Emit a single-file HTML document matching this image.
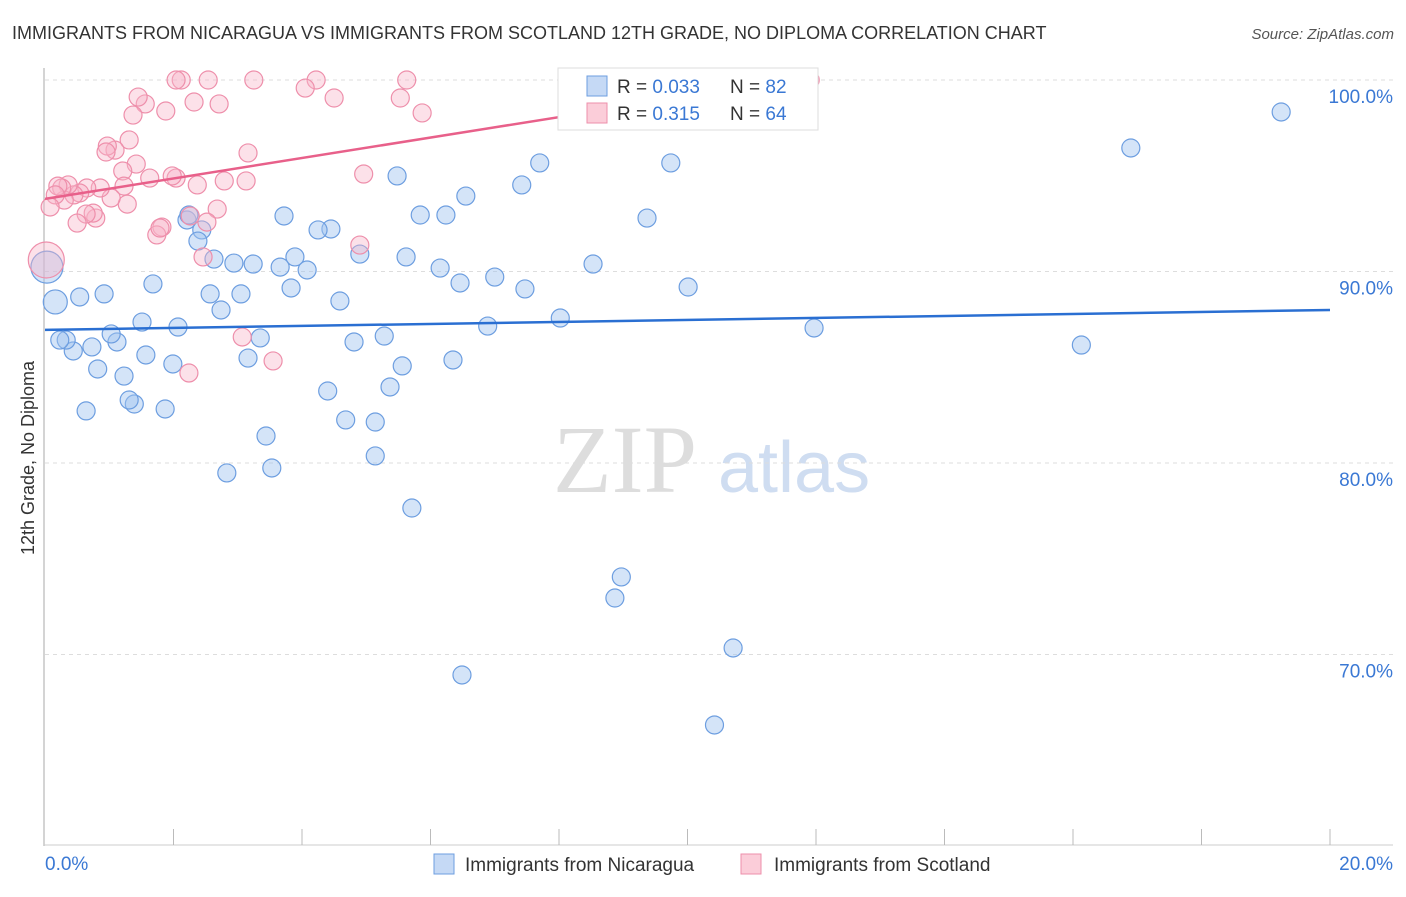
<!DOCTYPE html>
<html><head><meta charset="utf-8"><style>
body{margin:0;background:#fff;font-family:"Liberation Sans",sans-serif}
</style></head><body>
<svg id="chart" width="1406" height="892" xmlns="http://www.w3.org/2000/svg" font-family="Liberation Sans, sans-serif">
<text x="12" y="39" font-size="18" fill="#333">IMMIGRANTS FROM NICARAGUA VS IMMIGRANTS FROM SCOTLAND 12TH GRADE, NO DIPLOMA CORRELATION CHART</text>
<text x="1394" y="39" font-size="15" fill="#555" text-anchor="end" font-style="italic">Source: ZipAtlas.com</text>
<g>
<text x="553" y="492" font-size="96" font-family="Liberation Serif, serif" fill="#ddd">ZIP</text>
<text x="718" y="492" font-size="72" fill="#cfddf1">atlas</text>
</g>
<g id="grid"></g><g id="axes"></g><g id="pts"></g><g id="trend"></g>
<text transform="translate(34,458) rotate(-90)" font-size="18" fill="#333" text-anchor="middle">12th Grade, No Diploma</text>
<g>
<rect x="558" y="68" width="260" height="62" fill="#fff" stroke="#ddd"/>
<rect x="587" y="76" width="20" height="20" fill="#c5d9f5" stroke="#6d9ee0"/>
<rect x="587" y="103" width="20" height="20" fill="#fbcdd9" stroke="#ee8fab"/>
<text x="617" y="93" font-size="19" fill="#333">R = <tspan fill="#3a78d4">0.033</tspan></text>
<text x="730" y="93" font-size="19" fill="#333">N = <tspan fill="#3a78d4">82</tspan></text>
<text x="617" y="120" font-size="19" fill="#333">R = <tspan fill="#3a78d4"> 0.315</tspan></text>
<text x="730" y="120" font-size="19" fill="#333">N = <tspan fill="#3a78d4">64</tspan></text>
</g>
<g>
<rect x="434" y="854" width="20" height="20" fill="#c5d9f5" stroke="#6d9ee0"/>
<text x="465" y="871" font-size="19" fill="#333">Immigrants from Nicaragua</text>
<rect x="741" y="854" width="20" height="20" fill="#fbcdd9" stroke="#ee8fab"/>
<text x="774" y="871" font-size="19" fill="#333">Immigrants from Scotland</text>
</g>
</svg>
<script>
const yTicks=[100,90,80,70];
const yTickLabels=["100.0%","90.0%","80.0%","70.0%"];
const xTicks=[0,2,4,6,8,10,12,14,16,18,20];
const nicX=[19.24,16.90,16.13,11.97,10.71,10.42,10.01,9.74,9.37,8.97,8.87,8.53,8.02,7.70,7.42,7.47,7.00,6.89,6.55,6.46,6.49,6.24,6.15,6.35,5.84,5.62,5.48,5.56,5.37,5.71,5.28,5.14,5.14,4.90,4.81,4.68,4.59,4.40,4.45,4.25,4.08,3.89,3.83,3.72,3.66,3.53,3.44,3.35,3.24,3.16,3.05,2.94,2.83,2.74,2.63,2.57,2.44,2.38,2.21,2.24,2.07,1.99,1.87,1.68,1.57,1.51,1.39,1.31,1.23,1.12,1.03,0.92,0.82,0.73,0.64,0.54,0.44,0.33,0.23,0.16,0.03];
const nicY=[98.33,96.45,86.16,87.05,70.34,66.32,89.19,95.67,92.79,74.05,72.95,90.39,87.57,95.67,94.52,89.09,89.71,87.15,93.94,89.40,68.93,92.95,90.18,85.38,92.95,90.76,94.99,85.07,83.97,77.65,86.63,82.14,80.37,90.91,86.32,82.25,88.46,83.76,92.22,92.17,90.08,90.76,89.14,92.90,90.23,79.74,81.41,86.53,90.39,85.48,88.83,90.44,79.48,87.99,90.65,88.83,92.17,91.59,92.69,92.95,87.10,85.17,82.82,89.35,85.64,87.36,83.08,83.29,84.54,86.32,86.74,88.83,84.91,86.06,82.72,88.67,85.85,86.42,86.42,88.41,90.23];
const scoX=[11.91,5.63,5.53,5.87,4.96,4.90,4.22,4.05,4.50,3.25,3.16,3.13,3.07,3.55,2.54,2.71,2.32,2.12,2.04,1.88,1.56,1.45,1.37,1.31,1.09,0.97,0.95,1.42,1.21,1.63,2.04,1.98,2.37,2.79,2.68,2.52,2.26,1.82,1.74,1.79,2.46,2.24,1.28,1.23,1.03,0.86,0.79,0.75,0.65,0.64,0.54,0.50,0.45,0.36,0.30,0.26,0.20,0.16,0.08,0.02];
const scoY=[100,100,99.06,98.28,95.09,91.38,100,99.58,99.06,100,96.19,94.73,86.58,85.33,100,98.75,98.85,100,100,98.38,98.75,99.11,98.17,96.87,96.34,96.55,96.24,95.61,95.25,94.88,94.88,94.99,94.52,94.73,93.26,92.58,92.90,92.32,91.91,92.27,90.76,84.70,93.52,94.46,93.84,94.36,92.79,93.05,94.36,93.00,94.10,92.53,94.00,94.52,93.73,94.36,94.46,94.00,93.37,90.60];
const nicTrend=[[0,86.95],[20,87.99]];
const scoTrend=[[0,93.79],[11.44,99.9]];
const X=v=>45+v/20*1285, Y=v=>80+(100-v)*19.15;
const NS="http://www.w3.org/2000/svg";
function mk(t,a,p){const e=document.createElementNS(NS,t);for(const k in a)e.setAttribute(k,a[k]);document.getElementById(p).appendChild(e);return e;}
yTicks.forEach((t,i)=>{
 const g=mk('line',{x1:45,x2:1393,y1:Y(t),y2:Y(t),stroke:'#ddd','stroke-dasharray':'4,4'},'grid');
 
 
 const l=mk('text',{x:1393,y:Y(t)+23,'font-size':19,fill:'#3a78d4','text-anchor':'end'},'axes');
 l.textContent=yTickLabels[i];
 
 
});
const ya=mk('line',{x1:44,x2:44,y1:68,y2:846,stroke:'#aaa'},'axes');


const xa=mk('line',{x1:44,x2:1393,y1:845,y2:845,stroke:'#ccc'},'axes');


xTicks.forEach(t=>{if(t===0)return;
 const k=mk('line',{x1:X(t),x2:X(t),y1:829,y2:845,stroke:'#bbb'},'axes');
 
 
});
const x0=mk('text',{x:45,y:870,'font-size':19,fill:'#3a78d4'},'axes');x0.textContent='0.0%';


const x1=mk('text',{x:1393,y:870,'font-size':19,fill:'#3a78d4','text-anchor':'end'},'axes');x1.textContent='20.0%';


function rad(x,i,n){return i===n-1?16:(i===n-2?12:9);}
nicX.forEach((x,i)=>{
 const c=mk('circle',{cx:X(x),cy:Y(nicY[i]),r:rad(x,i,nicX.length),fill:'rgba(160,195,240,0.45)',stroke:'#6d9ee0','stroke-width':1.2},'pts');
 
 
});
scoX.forEach((x,i)=>{
 const c=mk('circle',{cx:X(x),cy:Y(scoY[i]),r:i===scoX.length-1?18:9,fill:'rgba(248,180,200,0.4)',stroke:'#ee8fab','stroke-width':1.2},'pts');
 
 
});
const t1=mk('line',{x1:X(nicTrend[0][0]),y1:Y(nicTrend[0][1]),x2:X(nicTrend[1][0]),y2:Y(nicTrend[1][1]),stroke:'#2a6fd2','stroke-width':2.5},'trend');


const t2=mk('line',{x1:X(scoTrend[0][0]),y1:Y(scoTrend[0][1]),x2:X(scoTrend[1][0]),y2:Y(scoTrend[1][1]),stroke:'#e8608a','stroke-width':2.5},'trend');


</script>
</body></html>
